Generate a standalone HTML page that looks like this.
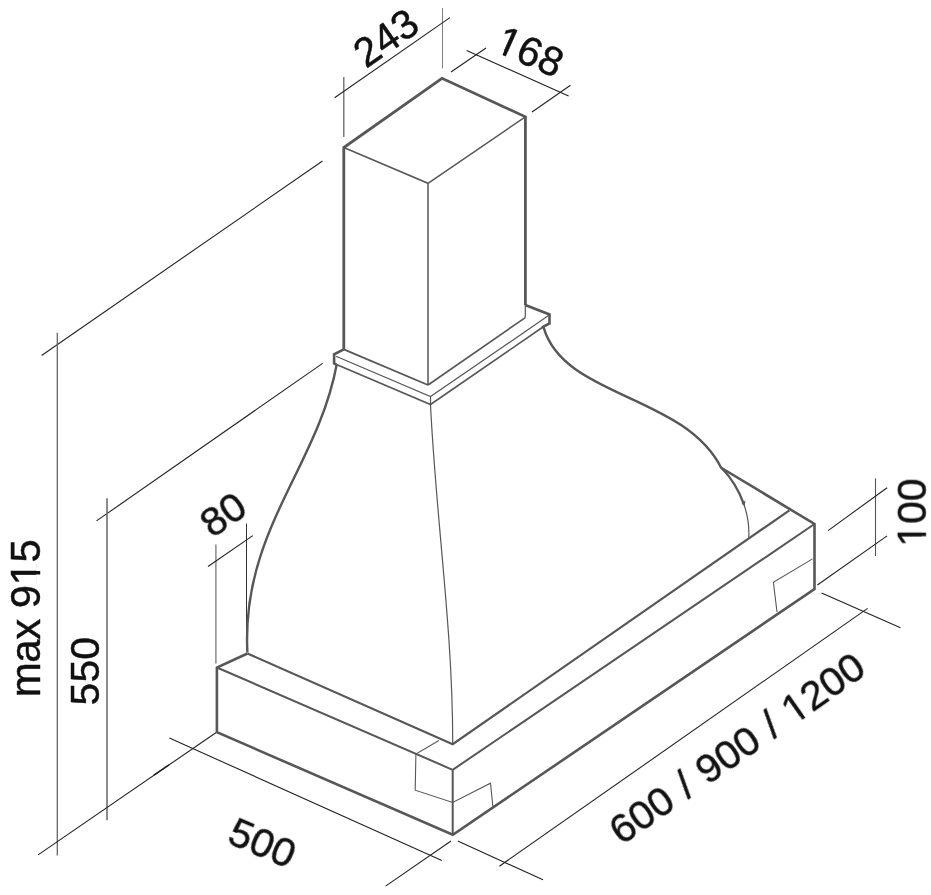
<!DOCTYPE html>
<html><head><meta charset="utf-8">
<style>
html,body{margin:0;padding:0;background:#fff;}
body{width:931px;height:895px;overflow:hidden;}
svg{display:block;}
text{font-family:"Liberation Sans",sans-serif;fill:#111;}
</style></head>
<body>
<svg width="931" height="895" viewBox="0 0 931 895">
<rect width="931" height="895" fill="#fff"/>
<!-- dimension lines -->
<g stroke="#222" stroke-width="1.1" fill="none">
  <!-- 243 -->
  <line style="stroke:#666;stroke-width:1.3" x1="343.8" y1="77" x2="343.8" y2="137"/>
  <line style="stroke:#808080;stroke-width:1" x1="442.5" y1="8" x2="442.5" y2="68.4"/>
  <line x1="334.6" y1="97.7" x2="449.9" y2="17.6"/>
  <!-- 168 -->
  <line x1="451" y1="72" x2="486" y2="48"/>
  <line x1="532" y1="112" x2="570.5" y2="85.3"/>
  <line x1="466.7" y1="50.4" x2="568.6" y2="96"/>
  <!-- max 915 -->
  <line x1="41.6" y1="355.5" x2="322.5" y2="161"/>
  <line style="stroke:#666;stroke-width:1.3" x1="57.3" y1="332.7" x2="57.3" y2="855.6"/>
  <!-- 550 -->
  <line x1="96.5" y1="520.9" x2="322.6" y2="363.4"/>
  <line style="stroke:#6e6e6e;stroke-width:1.6" x1="107" y1="498.3" x2="107" y2="820.2"/>
  <!-- 500 -->
  <line x1="38.1" y1="854.9" x2="216.6" y2="732.2"/>
  <line x1="153.9" y1="775.1" x2="169" y2="764.8" stroke-width="1.5"/>
  <line x1="169.4" y1="738" x2="441.8" y2="860.6"/>
  <line x1="385.6" y1="886.1" x2="451" y2="841"/>
  <!-- 600/900/1200 -->
  <line x1="457.8" y1="841.1" x2="543" y2="879.8"/>
  <line x1="821.6" y1="592.9" x2="900.5" y2="627.8"/>
  <line x1="499.4" y1="866.2" x2="867.6" y2="608.4"/>
  <!-- 100 -->
  <line style="stroke:#555;stroke-width:1.1" x1="875.5" y1="478.3" x2="875.5" y2="556"/>
  <line x1="828.1" y1="530.6" x2="887.1" y2="487.7"/>
  <line x1="817.4" y1="585" x2="887.1" y2="535.9"/>
  <!-- 80 -->
  <line style="stroke:#777;stroke-width:1.3" x1="215.9" y1="544.5" x2="215.9" y2="663.5"/>
  <line style="stroke:#333;stroke-width:1" x1="246.5" y1="523.6" x2="246.5" y2="640.5"/>
  <line x1="208" y1="566.5" x2="252.8" y2="535.6"/>
</g>
<!-- object: thick silhouette -->
<g stroke="#575757" fill="none" stroke-linejoin="miter" stroke-linecap="butt">
  <!-- chimney -->
  <path stroke-width="2.8" d="M343.8,349.3 L343.8,147.5 L442,78.3 L525.4,116.8 L525.4,305"/>
  <path stroke-width="1.5" d="M343.8,147.5 L428,183.3 L525.4,116.8 M428,183.3 L428,385"/>
  <!-- collar -->
  <path stroke-width="2.6" d="M343.8,349.3 L334.1,354.3 L334.1,363.5 L336.5,364.5 M525.2,305 L549.5,314.5 L549.5,323.5 L542,327.4"/>
  <path stroke-width="1.6" d="M336.5,364.5 L430.5,404.5 L543,327"/>
  <path stroke-width="1.8" d="M343.8,349.3 L428,385"/>
  <path stroke-width="1.6" d="M428,385 L525.3,317.6"/>
  <path stroke-width="1.2" d="M336,356.3 L430.5,396.6 L548.5,315.6 M430.5,396.6 L430.5,404.5 M525.3,305 L525.3,317.6"/>
  <!-- hood left curve -->
  <path stroke-width="2.4" d="M336.7,364.5 C317.6,467.4 241.1,531.8 247.4,652.5"/>
  <!-- hood right curve -->
  <path stroke-width="2.4" d="M543.6,327.4 C563.6,397.7 684.9,394.3 721.5,468.5"/>
  <path stroke-width="2.3" d="M721.9,468.3 C731.0,477.7 738.7,490.2 743.6,503.5"/>
  <path stroke-width="1.2" d="M743.6,503.5 C747.5,514.4 749.5,525.9 748.7,537.5"/>
  <path stroke-width="0" fill="#575757" d="M741.6,503.8 L745.4,500.6 L744.8,506.2 Z"/>
  <!-- hood front line -->
  <path stroke-width="1.2" d="M430.5,404.5 C435.9,518.2 453.0,630.3 452.7,744.2"/>
  <!-- base -->
  <path stroke-width="2.6" d="M247.5,653.5 L216.9,667.5 L216.9,732.2 L452.8,834.8 L814.5,589 L814.5,524 L721.5,468"/>
  <path stroke-width="2.0" d="M216.9,667.5 L452.7,769.8 L814.5,524 M452.7,769.8 L452.7,834.8"/>
  <path stroke-width="2.2" d="M247.5,653.5 L452.7,744.2 L789.4,510.3"/>
  <!-- details -->
  <path stroke-width="1.1" d="M438.9,740.5 L415.9,754 L415.2,790.2 L452.7,802.5 L490.5,783.2 L492.9,806.7 M812.5,558.9 L773.4,582.4 L777,612"/>
</g>
<!-- texts -->
<g fill="#111" stroke="#111" stroke-width="0.45" style="will-change:transform">
<g transform="translate(40.10 697.20) rotate(-90.00)"><text x="0" y="0" font-size="42" style="letter-spacing:-0.50px">max 915</text><g fill="#fff" stroke="none"><path d="M113.72,-4.00 H122.62 V1.20 H113.72 Z M126.27,-4.00 H134.43 V1.20 H126.27 Z"/></g></g>
<g transform="translate(98.50 705.40) rotate(-90.00)"><text x="0" y="0" font-size="41">550</text></g>
<g transform="translate(925.80 546.70) rotate(-90.00)"><text x="0" y="0" font-size="41">100</text><g fill="#fff" stroke="none"><path d="M1.80,-4.00 H10.49 V1.20 H1.80 Z M14.05,-4.00 H22.02 V1.20 H14.05 Z"/></g></g>
<g transform="translate(366.00 69.00) rotate(-35.00)"><text x="0" y="0" font-size="41">243</text></g>
<g transform="translate(493.00 50.50) rotate(24.00)"><text x="0" y="0" font-size="41">168</text><g fill="#fff" stroke="none"><path d="M1.80,-4.00 H10.49 V1.20 H1.80 Z M14.05,-4.00 H22.02 V1.20 H14.05 Z"/></g></g>
<g transform="translate(212.50 539.00) rotate(-35.00)"><text x="0" y="0" font-size="41">80</text></g>
<g transform="translate(225.50 842.50) rotate(23.00)"><text x="0" y="0" font-size="41">500</text></g>
<g transform="translate(621.70 846.00) rotate(-35.00)"><text x="0" y="0" font-size="41" style="word-spacing:1.20px">600 / 900 / 1200</text><g fill="#fff" stroke="none"><path d="M211.76,-4.00 H220.45 V1.20 H211.76 Z M224.01,-4.00 H231.98 V1.20 H224.01 Z"/></g></g>
</g>
</svg>
</body></html>
